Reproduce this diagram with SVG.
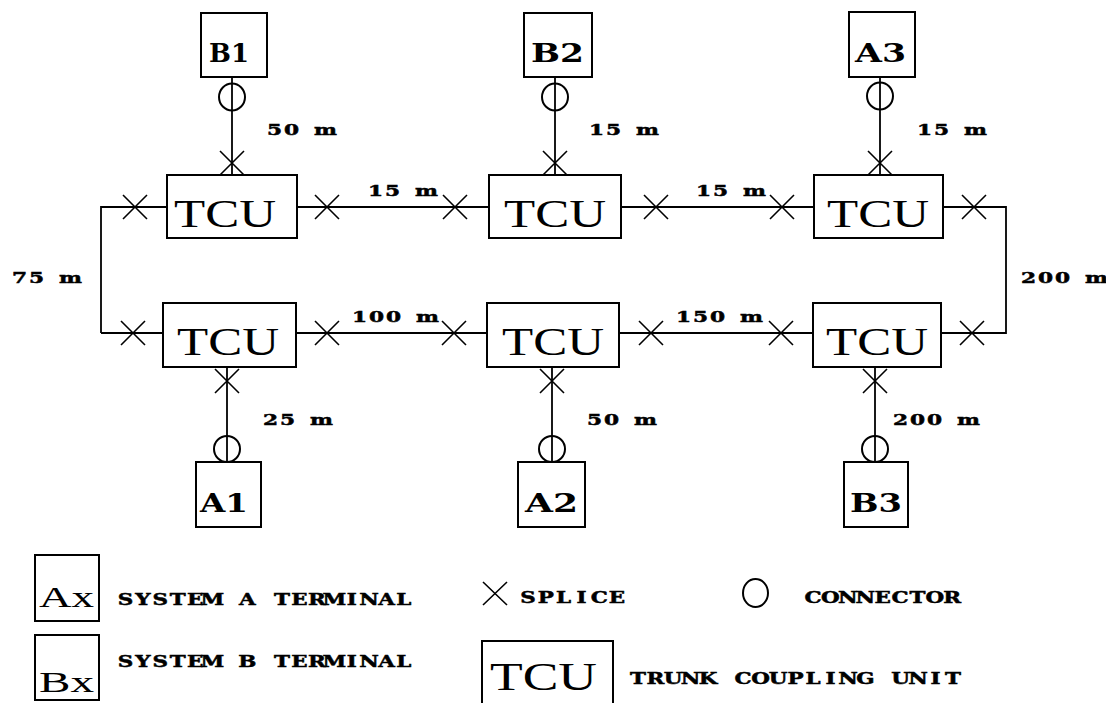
<svg xmlns="http://www.w3.org/2000/svg" width="1106" height="703" viewBox="0 0 1106 703">
<style>
.box{fill:#fff;stroke:#000;stroke-width:2}
.ln{fill:none;stroke:#000;stroke-width:1.8}
.sp{fill:none;stroke:#000;stroke-width:1.6}
.cn{fill:none;stroke:#000;stroke-width:2}
.tcu{font-family:"Liberation Serif","DejaVu Serif",serif;font-size:41px;font-weight:normal;fill:#000}
.term{font-family:"DejaVu Serif","Liberation Serif",serif;font-size:26px;font-weight:bold;fill:#000}
.lbl{font-family:"DejaVu Serif","Liberation Serif",serif;font-size:15.5px;font-weight:bold;fill:#000;stroke:#000;stroke-width:0.5;text-anchor:middle}
.leg{font-family:"DejaVu Serif","Liberation Serif",serif;font-size:16.5px;font-weight:bold;fill:#000;stroke:#000;stroke-width:0.5;text-anchor:middle}
.legt{font-family:"Liberation Serif","DejaVu Serif",serif;font-size:30px;font-weight:normal;fill:#000}
</style>
<defs>
<path id="x" class="sp" d="M-12,-12 L12,12 M12,-12 L-12,12"/>
</defs>
<rect width="1106" height="703" fill="#fff"/>

<g id="connectors">
<path class="ln" d="M101,333 L101,207 L167,207"/>
<path class="ln" d="M297,207 L489,207"/>
<path class="ln" d="M621,207 L814,207"/>
<path class="ln" d="M943,207 L1006,207 L1006,333 L941,333"/>
<path class="ln" d="M101,333 L163,333"/>
<path class="ln" d="M296,333 L487,333"/>
<path class="ln" d="M619,333 L813,333"/>
<path class="ln" d="M232,77 L232,175"/>
<path class="ln" d="M555,77 L555,175"/>
<path class="ln" d="M880,77 L880,175"/>
<path class="ln" d="M227,367 L227,462"/>
<path class="ln" d="M552,367 L552,462"/>
<path class="ln" d="M875,367 L875,462"/>
<use href="#x" x="135" y="207"/>
<use href="#x" x="327" y="207"/>
<use href="#x" x="455" y="207"/>
<use href="#x" x="656" y="207"/>
<use href="#x" x="782" y="207"/>
<use href="#x" x="974" y="207"/>
<use href="#x" x="133" y="333"/>
<use href="#x" x="327" y="333"/>
<use href="#x" x="454" y="333"/>
<use href="#x" x="651" y="333"/>
<use href="#x" x="781" y="333"/>
<use href="#x" x="972" y="333"/>
<use href="#x" x="232" y="163"/>
<use href="#x" x="555" y="163"/>
<use href="#x" x="880" y="163"/>
<use href="#x" x="227" y="381"/>
<use href="#x" x="552" y="381"/>
<use href="#x" x="875" y="381"/>
<ellipse class="cn" cx="232" cy="97" rx="13" ry="13.5"/>
<ellipse class="cn" cx="555" cy="97" rx="13" ry="13.5"/>
<ellipse class="cn" cx="880" cy="96" rx="13" ry="13.5"/>
<ellipse class="cn" cx="227" cy="449" rx="13" ry="13"/>
<ellipse class="cn" cx="552" cy="449" rx="13" ry="13"/>
<ellipse class="cn" cx="875" cy="449" rx="13" ry="13"/>
<text class="lbl" transform="translate(274.5,135) scale(1.4,1)" x="0 12.14 24.29 36.43">50 m</text>
<text class="lbl" transform="translate(596.5,135) scale(1.4,1)" x="0 12.14 24.29 36.43">15 m</text>
<text class="lbl" transform="translate(924.5,135) scale(1.4,1)" x="0 12.14 24.29 36.43">15 m</text>
<text class="lbl" transform="translate(375.5,196) scale(1.4,1)" x="0 12.14 24.29 36.43">15 m</text>
<text class="lbl" transform="translate(703.5,196) scale(1.4,1)" x="0 12.14 24.29 36.43">15 m</text>
<text class="lbl" transform="translate(19.5,283) scale(1.4,1)" x="0 12.14 24.29 36.43">75 m</text>
<text class="lbl" transform="translate(1028.5,283) scale(1.4,1)" x="0 12.14 24.29 36.43 48.57">200 m</text>
<text class="lbl" transform="translate(359.5,322) scale(1.4,1)" x="0 12.14 24.29 36.43 48.57">100 m</text>
<text class="lbl" transform="translate(683.5,322) scale(1.4,1)" x="0 12.14 24.29 36.43 48.57">150 m</text>
<text class="lbl" transform="translate(270.5,425) scale(1.4,1)" x="0 12.14 24.29 36.43">25 m</text>
<text class="lbl" transform="translate(594.5,425) scale(1.4,1)" x="0 12.14 24.29 36.43">50 m</text>
<text class="lbl" transform="translate(900.5,425) scale(1.4,1)" x="0 12.14 24.29 36.43 48.57">200 m</text>
</g>

<g id="tcu-top-1"><rect class="box" x="167" y="175" width="130" height="63"/><text class="tcu" x="174" y="227" textLength="102" lengthAdjust="spacingAndGlyphs">TCU</text></g>
<g id="tcu-top-2"><rect class="box" x="489" y="175" width="132" height="63"/><text class="tcu" x="504" y="227" textLength="102" lengthAdjust="spacingAndGlyphs">TCU</text></g>
<g id="tcu-top-3"><rect class="box" x="814" y="175" width="129" height="63"/><text class="tcu" x="827" y="227" textLength="102" lengthAdjust="spacingAndGlyphs">TCU</text></g>
<g id="tcu-bot-1"><rect class="box" x="163" y="303" width="133" height="64"/><text class="tcu" x="177" y="355" textLength="102" lengthAdjust="spacingAndGlyphs">TCU</text></g>
<g id="tcu-bot-2"><rect class="box" x="487" y="303" width="132" height="64"/><text class="tcu" x="502" y="355" textLength="102" lengthAdjust="spacingAndGlyphs">TCU</text></g>
<g id="tcu-bot-3"><rect class="box" x="813" y="303" width="128" height="64"/><text class="tcu" x="826" y="355" textLength="102" lengthAdjust="spacingAndGlyphs">TCU</text></g>

<g id="B1"><rect class="box" x="201" y="13" width="66" height="64"/><text class="term" x="209" y="62" textLength="40" lengthAdjust="spacingAndGlyphs">B1</text></g>
<g id="B2"><rect class="box" x="524" y="13" width="68" height="64"/><text class="term" x="531" y="62" textLength="53" lengthAdjust="spacingAndGlyphs">B2</text></g>
<g id="A3"><rect class="box" x="849" y="12" width="66" height="65"/><text class="term" x="855" y="62" textLength="51" lengthAdjust="spacingAndGlyphs">A3</text></g>
<g id="A1"><rect class="box" x="196" y="462" width="65" height="65"/><text class="term" x="200" y="512" textLength="48" lengthAdjust="spacingAndGlyphs">A1</text></g>
<g id="A2"><rect class="box" x="518" y="462" width="67" height="65"/><text class="term" x="525" y="512" textLength="53" lengthAdjust="spacingAndGlyphs">A2</text></g>
<g id="B3"><rect class="box" x="844" y="462" width="64" height="65"/><text class="term" x="850" y="512" textLength="52" lengthAdjust="spacingAndGlyphs">B3</text></g>

<g id="legend">
<rect class="box" x="35" y="555" width="64" height="66"/>
<text class="legt" x="39" y="607" textLength="55" lengthAdjust="spacingAndGlyphs">Ax</text>
<text class="leg" transform="translate(125.5,605) scale(1.3,1)" x="0 13.38 26.77 40.15 53.54 66.92 80.31 93.69 107.08 120.46 133.85 147.23 160.62 174 187.38 200.77 214.15">SYSTEM A TERMINAL</text>
<rect class="box" x="35" y="635" width="64" height="65"/>
<text class="legt" x="39" y="692" textLength="55" lengthAdjust="spacingAndGlyphs">Bx</text>
<text class="leg" transform="translate(125.5,667) scale(1.3,1)" x="0 13.38 26.77 40.15 53.54 66.92 80.31 93.69 107.08 120.46 133.85 147.23 160.62 174 187.38 200.77 214.15">SYSTEM B TERMINAL</text>
<path class="sp" d="M483,582 L507,605 M507,582 L483,605"/>
<text class="leg" transform="translate(528,603) scale(1.3,1)" x="0 13.69 27.38 41.08 54.77 68.46">SPLICE</text>
<ellipse class="cn" cx="755.5" cy="593" rx="12.5" ry="14"/>
<text class="leg" transform="translate(813,603) scale(1.3,1)" x="0 13.38 26.77 40.15 53.54 66.92 80.31 93.69 107.08">CONNECTOR</text>
<rect class="box" x="482" y="641" width="131" height="80"/>
<text class="tcu" x="490" y="690" textLength="107" lengthAdjust="spacingAndGlyphs">TCU</text>
<text class="leg" transform="translate(638,684) scale(1.3,1)" x="0 13.46 26.92 40.38 53.85 67.31 80.77 94.23 107.69 121.15 134.62 148.08 161.54 175 188.46 201.92 215.38 228.85 242.31">TRUNK COUPLING UNIT</text>
</g>
</svg>
